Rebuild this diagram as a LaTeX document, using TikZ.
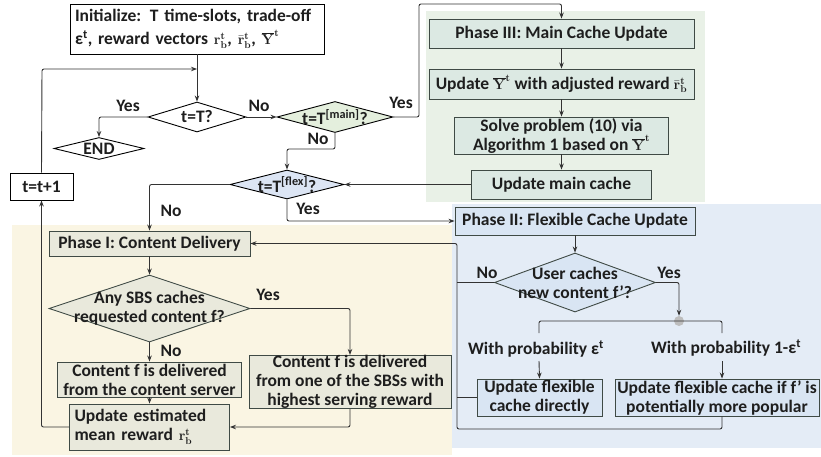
\documentclass[tikz,border=0pt]{standalone}
\usepackage[no-math]{fontspec}
\setmainfont{Carlito}
\usetikzlibrary{shapes.geometric,arrows.meta,calc}
\definecolor{bggreen}{HTML}{E9F1E7}
\definecolor{bgyellow}{HTML}{FAF5E3}
\definecolor{bgblue}{HTML}{E4ECF6}
\definecolor{gfill}{HTML}{DCE9E3}
\definecolor{yfill}{HTML}{E9E9DC}
\definecolor{bfill}{HTML}{D9E5F3}
\definecolor{dgfill}{HTML}{E4EFDD}
\definecolor{dbfill}{HTML}{DCE5F4}
\definecolor{bord}{HTML}{3F4A45}
\definecolor{lineC}{HTML}{333333}
\definecolor{txt}{HTML}{1E1E1E}
\definecolor{dotC}{HTML}{BDBDBD}
\tikzset{
  base/.style={font=\bfseries\fontsize{17.5}{19}\selectfont, text=txt},
  wbox/.style={base, rectangle, draw=black, fill=white, line width=0.9pt, inner sep=0pt, align=center},
  gbox/.style={wbox, draw=bord, fill=gfill},
  ybox/.style={wbox, draw=bord, fill=yfill},
  bbox/.style={wbox, draw=bord, fill=bfill},
  dia/.style={diamond, draw=black, fill=white, inner sep=0pt, line width=0.9pt},
  lbl/.style={base, inner sep=0pt},
  conn/.style={draw=lineC, line width=0.9pt, rounded corners=2pt},
  arr/.style={conn, -{Stealth[length=6pt,width=4.5pt]}},
}
\newcommand{\mth}[1]{{\fontsize{14}{14}\selectfont$#1$}}
\newcommand{\rbt}{\mth{\mathbf{r}^{\mathbf{t}}_{\mathbf{b}}}}
\newcommand{\rbbar}{\mth{\bar{\mathbf{r}}^{\mathbf{t}}_{\mathbf{b}}}}
\newcommand{\Ybar}{\mth{\overline{\mathbf{Y}}^{\mathbf{t}}}}
\begin{document}
\begin{tikzpicture}[x=1pt,y=-1pt]
\useasboundingbox (0,0) rectangle (821,456);
% backgrounds
\fill[bggreen] (426,11) rectangle (705,202);
\fill[bgyellow] (12,225) rectangle (452,455);
\fill[bgblue] (452,204) rectangle (821,448);

% top-level nodes
\node[wbox, align=left, text width=244, inner xsep=5pt, minimum height=50, font=\bfseries\fontsize{17.5}{23}\selectfont] (init) at (197,29)
  {Initialize: T time-slots, trade-off\\ε\textsuperscript{t}, reward vectors \rbt, \rbbar, \Ybar};
\node[dia, minimum width=98, minimum height=30] (tT) at (197,117) {};
\node[lbl] at (tT) {t=T?};
\node[dia, minimum width=90, minimum height=22] (endd) at (99,148.5) {};
\node[lbl] at (endd) {END};
\node[dia, fill=dgfill, minimum width=116, minimum height=31] (tmain) at (335,117) {};
\node[lbl] at (tmain) {t=T\textsuperscript{[main]}?};
\node[dia, fill=dbfill, minimum width=114, minimum height=29] (tflex) at (287,184.5) {};
\node[lbl] at (tflex) {t=T\textsuperscript{[flex]}?};
\node[wbox, minimum width=63, minimum height=27] (tinc) at (41.5,186.5) {t=t+1};

% Phase III
\node[gbox, minimum width=265, minimum height=29] (p3) at (561.5,33.5) {Phase III: Main Cache Update};
\node[gbox, minimum width=265, minimum height=30] (updY) at (561.5,84) {Update \Ybar\ with adjusted reward \rbbar};
\node[gbox, minimum width=214, minimum height=37] (solve) at (561.5,135.5) {Solve problem (10) via\\Algorithm 1 based on \Ybar};
\node[gbox, minimum width=180, minimum height=29] (updmain) at (561.5,184.5) {Update main cache};

% Phase II
\node[bbox, minimum width=240, minimum height=28] (p2) at (575,221) {Phase II: Flexible Cache Update};
\node[dia, draw=bord, fill=bfill, minimum width=161, minimum height=59] (user) at (575,282.5) {};
\node[lbl, align=center] at (user) {User caches\\new content f’?};
\node[circle, fill=dotC, inner sep=0pt, minimum size=10] (dot) at (679,321) {};
\node[bbox, minimum width=125, minimum height=37] (fd) at (539.5,397.5) {Update flexible\\cache directly};
\node[bbox, minimum width=204, minimum height=37] (fp) at (717,397.5) {Update flexible cache if f’ is\\potentially more popular};

% Phase I
\node[ybox, minimum width=201, minimum height=25] (p1) at (149.5,243.5) {Phase I: Content Delivery};
\node[dia, draw=bord, fill=yfill, minimum width=201, minimum height=67] (sbs) at (149.5,308.5) {};
\node[lbl, align=center] at (sbs) {Any SBS caches\\requested content f?};
\node[ybox, minimum width=184, minimum height=35] (srv) at (149.5,379.5) {Content f is delivered\\from the content server};
\node[ybox, minimum width=202, minimum height=50] (sbsbox) at (350,382) {Content f is delivered\\from one of the SBSs with\\highest serving reward};
\node[ybox, align=left, text width=150, inner xsep=5pt, minimum height=46] (upd) at (149.5,427) {Update estimated\\mean reward \rbt};

% coordinates
\coordinate (j1) at (197,69);
\coordinate (c1) at (42,69);
\coordinate (c2) at (419,117);
\coordinate (c3) at (419,4);
\coordinate (c4) at (335,149);
\coordinate (vx) at (457,243.5);
\coordinate (bl) at (539,321);
\coordinate (br) at (722,321);
\coordinate (blt) at (539,333);
\coordinate (brt) at (722,333);
\coordinate (al) at (539,361);
\coordinate (ar) at (722,361);
\coordinate (bot) at (722,429);
\coordinate (botl) at (457,429);

% connectors
\draw[arr] (init.south) -- (tT.north);
\draw[arr] (tinc.north) -- (c1) -- (j1);
\draw[arr] (tT.west) -| (endd.north);
\draw[arr] (tT.east) -- (tmain.west);
\draw[arr] (tmain.east) -- (c2) -- (c3) -| (p3.north);
\draw[arr] (tmain.south) -- (c4) -| (tflex.north);
\draw[arr] (updmain.west) -- (tflex.east);
\draw[arr] (tflex.west) -| (p1.north);
\draw[arr] (tflex.south) |- (p2.west);
\draw[arr] (p3.south) -- (updY.north);
\draw[arr] (updY.south) -- (solve.north);
\draw[arr] (solve.south) -- (updmain.north);
\draw[arr] (p2.south) -- (user.north);
\draw[conn] (user.west) -- (user.west -| vx);
\draw[arr] (user.east) -| (dot.north);
\draw[conn] (blt) -- (bl) -- (br) -- (brt);
\draw[arr] (al) -- (fd.north);
\draw[arr] (ar) -- (ar |- fp.north);
\draw[conn] (fd.west) -- (fd.west -| vx);
\draw[arr] (ar |- fp.south) -- (bot) -- (botl) -- (vx) -- (p1.east);
\draw[arr] (p1.south) -- (sbs.north);
\draw[arr] (sbs.east) -| (sbsbox.north);
\draw[arr] (sbs.south) -- (srv.north);
\draw[arr] (srv.south) -- (upd.north);
\draw[arr] (sbsbox.south) |- (upd.east);
\draw[arr] (upd.west) -| (tinc.south);

% labels
\node[lbl] at (128,106) {Yes};
\node[lbl] at (259,106) {No};
\node[lbl] at (401,103) {Yes};
\node[lbl] at (318,139) {No};
\node[lbl] at (171,211) {No};
\node[lbl] at (308,209) {Yes};
\node[lbl] at (268,295) {Yes};
\node[lbl] at (171,351) {No};
\node[lbl] at (487,273) {No};
\node[lbl] at (669,273) {Yes};
\node[lbl] at (536,349) {With probability ε\textsuperscript{t}};
\node[lbl] at (726,348) {With probability 1-ε\textsuperscript{t}};
\end{tikzpicture}
\end{document}
